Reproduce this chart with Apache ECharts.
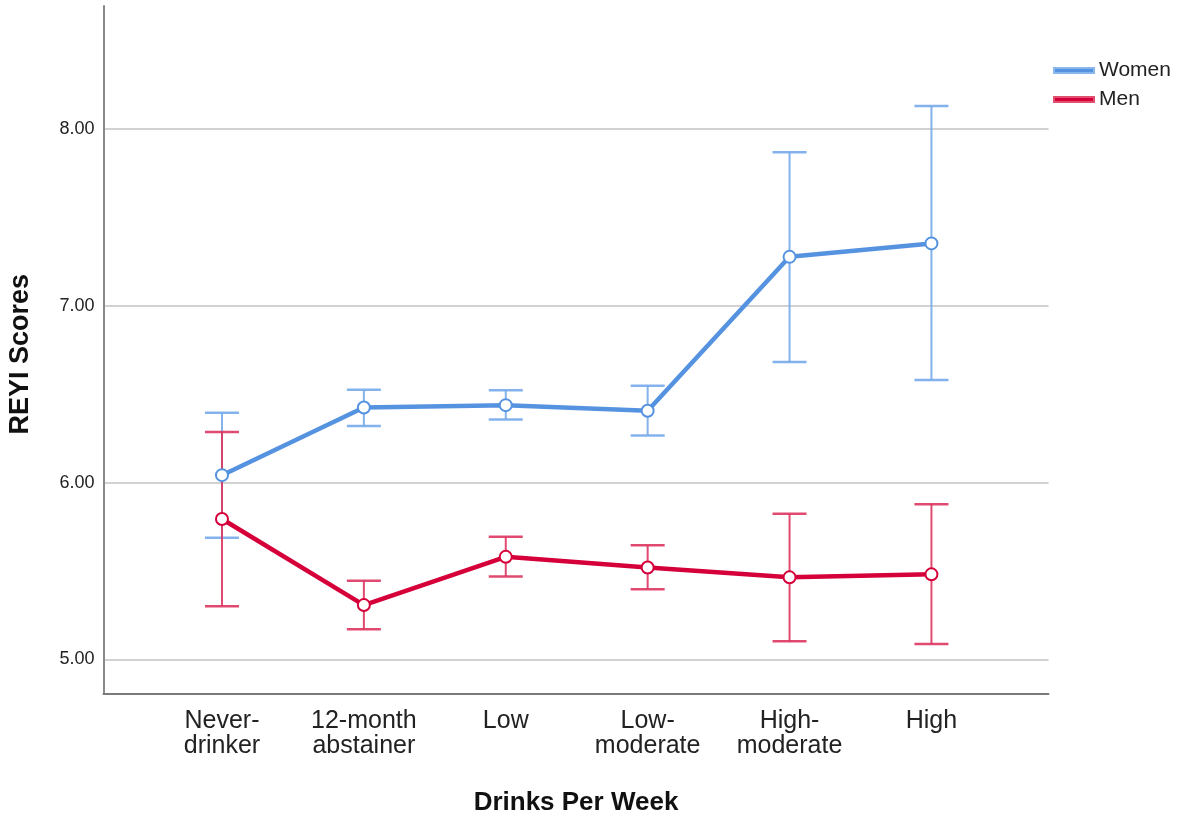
<!DOCTYPE html>
<html>
<head>
<meta charset="utf-8">
<script src="https://cdn.jsdelivr.net/npm/echarts@6/dist/echarts.min.js"></script>
<style>html,body{margin:0;padding:0;background:#fff}#c{width:1180px;height:816px}</style>
</head>
<body>
<div id="c"></div>
<script>
const categories = ['Never-\ndrinker', '12-month\nabstainer', 'Low', 'Low-\nmoderate', 'High-\nmoderate', 'High'];
const categoryPos = [1, 2, 3, 4, 5, 6];
const yTicks = [5, 6, 7, 8];

const womenMean = [6.042, 6.425, 6.438, 6.406, 7.277, 7.353];
const womenLow  = [5.688, 6.320, 6.357, 6.267, 6.682, 6.581];
const womenHigh = [6.395, 6.525, 6.523, 6.548, 7.868, 8.131];

const menMean = [5.794, 5.307, 5.580, 5.520, 5.464, 5.481];
const menLow  = [5.301, 5.170, 5.469, 5.396, 5.102, 5.087];
const menHigh = [6.286, 5.445, 5.693, 5.645, 5.824, 5.878];

const FONT = 'Liberation Sans';
const BLUE = '#5593e0', BLUE_ERR = '#76aaea';
const RED = '#d5003a', RED_ERR = '#dd3560';

function errRender(color) {
  return function (params, api) {
    const x = api.value(0), lo = api.value(1), hi = api.value(2);
    const pHi = api.coord([x, hi]), pLo = api.coord([x, lo]);
    const hw = 17;
    const vStyle = { stroke: color, lineWidth: 2, opacity: 0.9 };
    const cStyle = { stroke: color, lineWidth: 2.5, opacity: 0.9 };
    return { type: 'group', children: [
      { type: 'line', shape: { x1: pHi[0], y1: pHi[1], x2: pLo[0], y2: pLo[1] }, style: vStyle },
      { type: 'line', shape: { x1: pHi[0] - hw, y1: pHi[1], x2: pHi[0] + hw, y2: pHi[1] }, style: cStyle },
      { type: 'line', shape: { x1: pLo[0] - hw, y1: pLo[1], x2: pLo[0] + hw, y2: pLo[1] }, style: cStyle }
    ]};
  };
}

const chart = echarts.init(document.getElementById('c'), null, { renderer: 'canvas' });
chart.setOption({
  animation: false,
  backgroundColor: '#fff',
  textStyle: { fontFamily: FONT },
  grid: { left: 103.5, right: 131.5, top: 6, bottom: 122.7, containLabel: false, outerBoundsMode: 'none' },
  legend: {
    orient: 'vertical', left: 1053, top: 60, itemGap: 8, padding: 0,
    icon: 'rect', itemWidth: 40, itemHeight: 5,
    textStyle: { fontSize: 21, color: '#222', fontFamily: FONT },
    data: ['Women', 'Men']
  },
  xAxis: {
    type: 'value', min: 1 - 0.835, max: 6.825,
    name: 'Drinks Per Week', nameLocation: 'middle', nameGap: 97,
    nameTextStyle: { fontSize: 26, fontWeight: 'bold', color: '#111', fontFamily: FONT },
    axisLine: { show: true, lineStyle: { color: '#7a7a7a', width: 2 } },
    axisTick: { show: false },
    splitLine: { show: false },
    axisLabel: {
      customValues: categoryPos, fontSize: 25, lineHeight: 25, color: '#222', margin: 15, fontFamily: FONT,
      formatter: function (v) { return categories[Math.round(v) - 1] || ''; }
    }
  },
  yAxis: {
    type: 'value', min: 4.808, max: 8.696,
    name: 'REYI Scores', nameLocation: 'middle', nameGap: 69, nameRotate: 90,
    nameTextStyle: { fontSize: 27, fontWeight: 'bold', color: '#111', fontFamily: FONT, padding: [0, 9, 0, 0] },
    axisLine: { show: true, lineStyle: { color: '#8a8a8a', width: 2 } },
    axisTick: { show: false, customValues: yTicks },
    splitLine: { show: true, lineStyle: { color: '#d2d2d2', width: 2 } },
    axisLabel: {
      customValues: yTicks, fontSize: 18, color: '#222', margin: 9, fontFamily: FONT,
      formatter: function (v) { return v.toFixed(2); }
    }
  },
  series: [
    { type: 'custom', name: 'WomenErr', renderItem: errRender(BLUE_ERR), z: 2,
      data: categoryPos.map((x, i) => [x, womenLow[i], womenHigh[i]]), silent: true },
    { type: 'custom', name: 'MenErr', renderItem: errRender(RED_ERR), z: 2,
      data: categoryPos.map((x, i) => [x, menLow[i], menHigh[i]]), silent: true },
    { type: 'line', name: 'Women', z: 3, color: BLUE,
      data: categoryPos.map((x, i) => [x, womenMean[i]]),
      lineStyle: { color: BLUE, width: 4.5 },
      symbol: 'emptyCircle', symbolSize: 12,
      itemStyle: { color: BLUE, borderColor: '#8ab6ee', borderWidth: 1.5 } },
    { type: 'line', name: 'Men', z: 3, color: RED,
      data: categoryPos.map((x, i) => [x, menMean[i]]),
      lineStyle: { color: RED, width: 4.5 },
      symbol: 'emptyCircle', symbolSize: 12,
      itemStyle: { color: RED, borderColor: '#e0506f', borderWidth: 1.5 } }
  ]
});
</script>
</body>
</html>
